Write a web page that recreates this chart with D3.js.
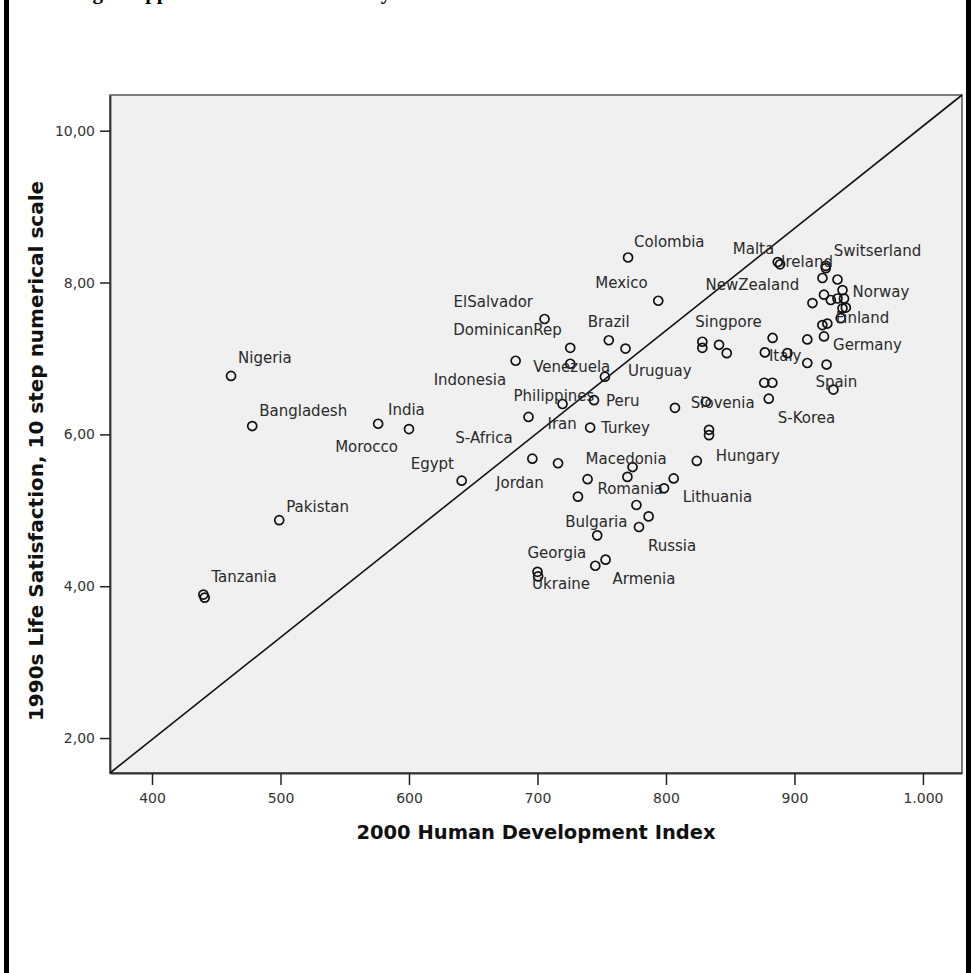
<!DOCTYPE html>
<html>
<head>
<meta charset="utf-8">
<script src="https://cdn.jsdelivr.net/npm/d3@7"></script>
<style>
  body { margin: 0; background: #fff; }
</style>
</head>
<body>
<div id="container"></div>
<script>
let w = 974;
let h = 973;

// data (HDI x 1000, life satisfaction 1-10)
let country = ["Tanzania", "", "Pakistan", "Nigeria", "Bangladesh", "Morocco", "India", "Egypt",
  "Indonesia", "ElSalvador", "DominicanRep", "Colombia", "Mexico", "Brazil", "", "Venezuela",
  "Uruguay", "Philippines", "Peru", "Iran", "S-Africa", "Turkey", "Jordan", "Macedonia",
  "Romania", "", "Lithuania", "", "", "", "Bulgaria", "", "Russia", "Georgia", "Ukraine",
  "Armenia", "", "Hungary", "", "", "Slovenia", "", "Singpore", "", "", "", "", "",
  "Italy", "", "", "", "", "", "Spain", "S-Korea", "Germany", "", "", "Finland", "", "",
  "Norway", "NewZealand", "", "", "", "", "", "", "Switserland", "", "Ireland", "Malta"];
let hdi = [440, 441, 499, 461.5, 478, 576, 600, 641,
  683, 705.5, 725.5, 770.5, 794, 755.5, 768.5, 725.5,
  752.5, 719.5, 744, 693, 696, 741, 716, 774,
  770, 739, 806, 798.5, 731.5, 777, 746.5, 786.5, 779, 700, 700.5,
  753, 745, 824, 833.5, 833.5, 831, 807, 828.3, 828.3, 841.3, 847.3, 883, 910,
  877, 894.5, 910, 925, 876.5, 882.8, 930.3, 880, 923, 921.7, 925.6, 936, 937.4, 940,
  937.4, 914, 923, 928.3, 933.5, 938.6, 921.8, 933.5, 924.4, 924.4, 888.8, 887];
let lifeSat = [3.89, 3.85, 4.87, 6.77, 6.11, 6.14, 6.07, 5.39,
  6.97, 7.52, 7.14, 8.33, 7.76, 7.24, 7.13, 6.93,
  6.76, 6.40, 6.45, 6.23, 5.68, 6.09, 5.62, 5.57,
  5.44, 5.41, 5.42, 5.29, 5.18, 5.07, 4.67, 4.92, 4.78, 4.19, 4.13,
  4.35, 4.27, 5.65, 6.06, 5.99, 6.43, 6.35, 7.22, 7.14, 7.18, 7.07, 7.27, 7.25,
  7.08, 7.07, 6.94, 6.92, 6.68, 6.68, 6.59, 6.47, 7.29, 7.44, 7.46, 7.53, 7.66, 7.67,
  7.90, 7.73, 7.84, 7.77, 7.79, 7.79, 8.06, 8.04, 8.22, 8.19, 8.24, 8.27];
let xTicks = [400, 500, 600, 700, 800, 900, 1000];
let xTickLabels = ["400", "500", "600", "700", "800", "900", "1.000"];
let yTicks = [2, 4, 6, 8, 10];
let yTickLabels = ["2,00", "4,00", "6,00", "8,00", "10,00"];

// where each name sits next to its circle (pixels, left edge / baseline)
let labelOffset = {
  "Tanzania": [8, -12.5], "Pakistan": [7, -8.5], "Nigeria": [7, -12.5], "Bangladesh": [7, -10.5],
  "Morocco": [-43, 28.5], "India": [-21, -14.5], "Egypt": [-51, -11.5], "Indonesia": [-82, 24.5],
  "ElSalvador": [-91, -12], "DominicanRep": [-117, -13], "Colombia": [6, -10.5], "Mexico": [-63, -12.5],
  "Brazil": [-21, -13.5], "Venezuela": [-37, 8.5], "Uruguay": [23, -1], "Philippines": [-49, -3],
  "Peru": [12, 5.5], "Iran": [19, 12], "S-Africa": [-77, -16], "Turkey": [11, 5],
  "Jordan": [-62, 25], "Macedonia": [-47, -3], "Romania": [-30, 17], "Lithuania": [9, 24],
  "Bulgaria": [-32, -8], "Russia": [9, 24], "Georgia": [-10, -14], "Ukraine": [-6, 12.5],
  "Armenia": [7, 24.5], "Hungary": [19, 0.5], "Slovenia": [-15, 6], "Singpore": [-7, -15],
  "Italy": [4, 9], "Spain": [-18, -3], "S-Korea": [9, 24.5], "Germany": [9, 14],
  "Finland": [-5, 5], "Norway": [10, 6.5], "NewZealand": [-107, -13], "Switserland": [8, -10],
  "Ireland": [1, 3], "Malta": [-45, -8.5]
};

let points = country.map(function(d, i){
  return {name: d, hdi: hdi[i], ls: lifeSat[i]};
});

let plotLeft = 110, plotRight = 962, plotTop = 95, plotBottom = 773;

let viz = d3.select("#container")
  .append("svg")
    .attr("width", w)
    .attr("height", h)
    .style("background-color", "#ffffff")
;

// page frame bars left and right
viz.append("rect").attr("x", 4).attr("y", 0).attr("width", 5).attr("height", h).attr("fill", "#000");
viz.append("rect").attr("x", 966).attr("y", 0).attr("width", 5).attr("height", h).attr("fill", "#000");

// caption of the page, mostly cut off above the top edge (only descenders show)
let caption = viz.append("text")
  .attr("y", -1.5)
  .attr("fill", "#000")
  .style("font-family", "'Liberation Serif', serif")
  .style("font-weight", "bold")
  .style("font-size", "21px");
caption.append("tspan").attr("x", 103).attr("text-anchor", "end").text("Measuring");
caption.append("tspan").attr("x", 123).text("happiness");
caption.append("tspan").attr("x", 228).text("in the world");
caption.append("tspan").attr("x", 369).text("by");

let xScale = d3.scaleLinear().domain([367.3, 1030.4]).range([plotLeft, plotRight]);
let yScale = d3.scaleLinear().domain([1.54, 10.47]).range([plotBottom, plotTop]);

// plot background
viz.append("rect")
  .attr("x", plotLeft)
  .attr("y", plotTop)
  .attr("width", plotRight - plotLeft)
  .attr("height", plotBottom - plotTop)
  .attr("fill", "#f0f0f0")
  .attr("stroke", "#555")
  .attr("stroke-width", 1.5);

// axes
let xAxis = d3.axisBottom(xScale)
  .tickValues(xTicks)
  .tickFormat(function(d, i){ return xTickLabels[i]; })
  .tickSize(12)
  .tickSizeOuter(0)
  .tickPadding(8);
let xAxisGroup = viz.append("g")
  .attr("class", "xaxis")
  .attr("transform", "translate(0," + plotBottom + ")")
  .call(xAxis);

let yAxis = d3.axisLeft(yScale)
  .tickValues(yTicks)
  .tickFormat(function(d, i){ return yTickLabels[i]; })
  .tickSize(10)
  .tickSizeOuter(0)
  .tickPadding(5);
let yAxisGroup = viz.append("g")
  .attr("class", "yaxis")
  .attr("transform", "translate(" + plotLeft + ",0)")
  .call(yAxis);

viz.selectAll(".xaxis path, .yaxis path").attr("stroke", "#333").attr("stroke-width", 1.8);
viz.selectAll(".xaxis line, .yaxis line").attr("stroke", "#222").attr("stroke-width", 1.5);
viz.selectAll(".xaxis text, .yaxis text")
  .attr("fill", "#333")
  .style("font-family", "'DejaVu Sans', sans-serif")
  .style("font-size", "14px");

// diagonal reference line, corner to corner of the plot
let xd = xScale.domain(), yd = yScale.domain();
viz.append("line")
  .attr("x1", xScale(xd[0]))
  .attr("y1", yScale(yd[0]))
  .attr("x2", xScale(xd[1]))
  .attr("y2", yScale(yd[1]))
  .attr("stroke", "#111")
  .attr("stroke-width", 1.6);

// circles
let datagroups = viz.selectAll(".datagroup").data(points).enter()
  .append("g")
    .attr("class", "datagroup")
    .attr("transform", function(d){ return "translate(" + xScale(d.hdi) + "," + yScale(d.ls) + ")"; })
;
datagroups.append("circle")
  .attr("r", 4.5)
  .attr("fill", "none")
  .attr("stroke", "#111")
  .attr("stroke-width", 1.7);

datagroups.filter(function(d){ return d.name != ""; })
  .append("text")
    .text(function(d){ return d.name; })
    .attr("x", function(d){ return labelOffset[d.name][0]; })
    .attr("y", function(d){ return labelOffset[d.name][1]; })
    .attr("fill", "#2a2a2a")
    .style("font-family", "'DejaVu Sans', sans-serif")
    .style("font-size", "15px");

// axis titles
viz.append("text")
  .text("2000 Human Development Index")
  .attr("x", 536)
  .attr("y", 839)
  .attr("text-anchor", "middle")
  .attr("fill", "#111")
  .style("font-family", "'DejaVu Sans', sans-serif")
  .style("font-weight", "bold")
  .style("font-size", "19.5px");

viz.append("text")
  .text("1990s Life Satisfaction, 10 step numerical scale")
  .attr("text-anchor", "middle")
  .attr("transform", "translate(43,451),rotate(-90)")
  .attr("fill", "#111")
  .style("font-family", "'DejaVu Sans', sans-serif")
  .style("font-weight", "bold")
  .style("font-size", "20px");
</script>
</body>
</html>
